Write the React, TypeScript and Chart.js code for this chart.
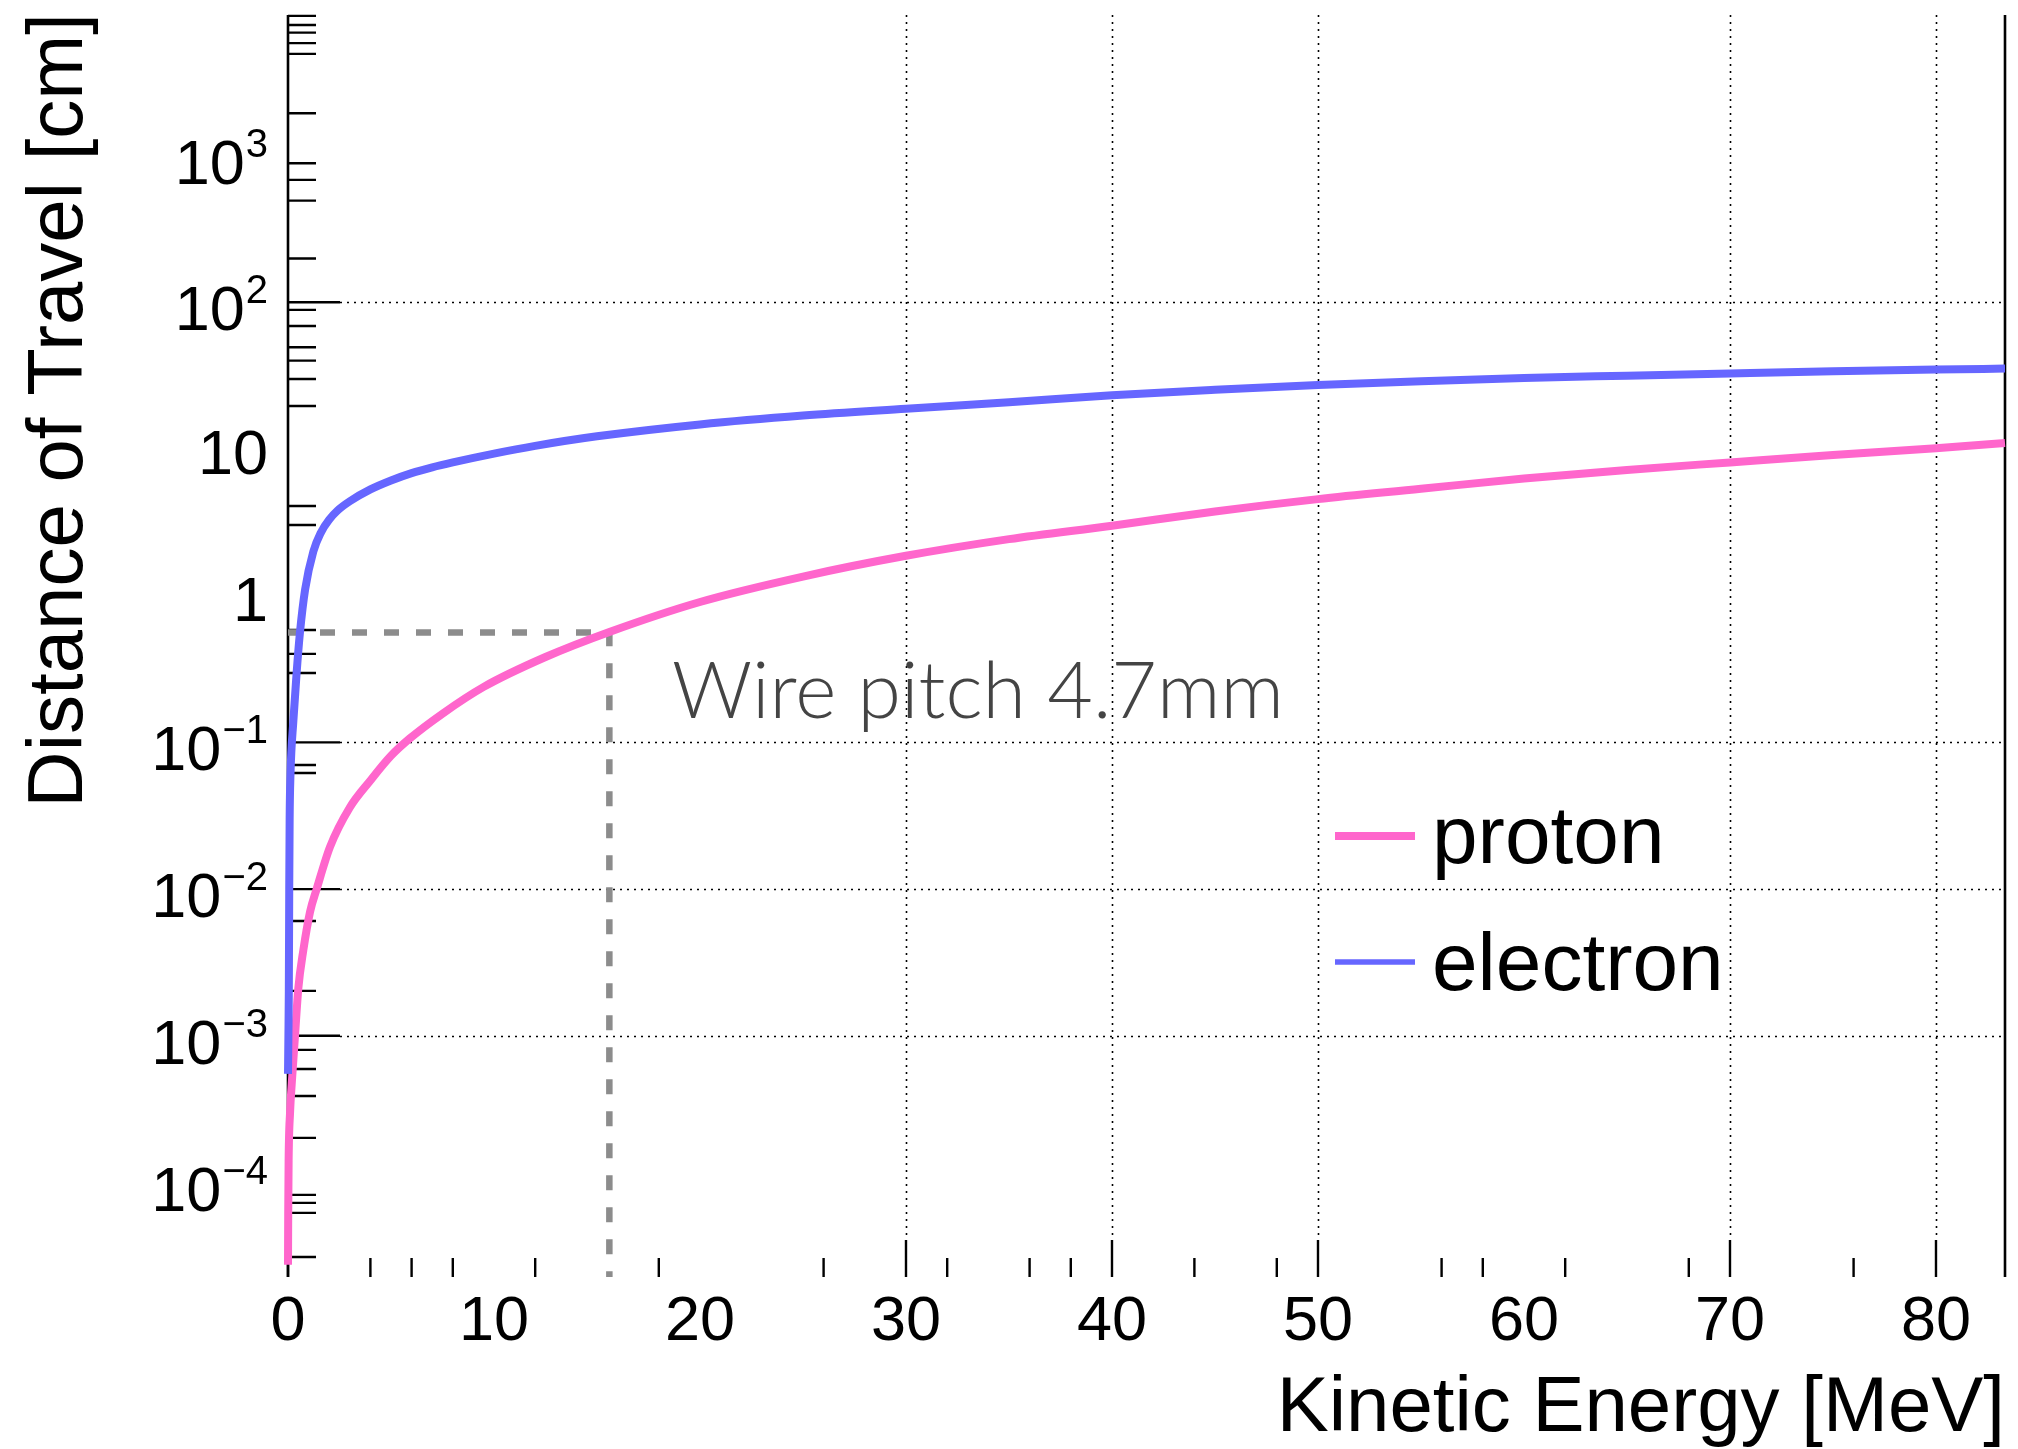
import React, { useEffect, useRef } from "react";
import { Chart, registerables } from "chart.js";

Chart.register(...registerables);

// ---- data ----
const protonEnergy = [0, 0.01, 0.03, 0.1, 0.18, 0.34, 0.5, 0.74, 1.07, 1.39, 2.04, 3.0, 4.0, 5.0, 5.9, 7.5, 9.5, 12.5, 15.6, 20, 25, 30, 35, 40, 45, 50, 55, 60, 65, 70, 75, 80, 83.35];
const protonRange = [2.75e-5, 6e-5, 1.4e-4, 3e-4, 4.7e-4, 1e-3, 2.1e-3, 3.8e-3, 7e-3, 0.01, 0.0194, 0.036, 0.055, 0.081, 0.106, 0.157, 0.239, 0.382, 0.566, 0.906, 1.35, 1.87, 2.43, 3.0, 3.75, 4.55, 5.35, 6.3, 7.2, 8.1, 9.1, 10.1, 11.0];

const electronEnergy = [0, 0.02, 0.04, 0.06, 0.08, 0.12, 0.26, 0.42, 0.58, 0.83, 1.23, 1.6, 2.0, 2.4, 3.0, 4.0, 5.0, 6, 7, 8, 10, 12, 15, 20, 25, 30, 35, 40, 45, 50, 55, 60, 65, 70, 75, 80, 83.35];
const electronRange = [5.5e-4, 1e-3, 2e-3, 0.01, 0.03, 0.06, 0.14, 0.3, 0.56, 1.1, 2.0, 2.7, 3.3, 3.8, 4.4, 5.3, 6.1, 6.85, 7.5, 8.1, 9.3, 10.5, 12.2, 14.7, 16.9, 18.8, 20.8, 23.2, 25.3, 27.3, 29, 30.5, 31.6, 32.7, 33.8, 34.8, 35.3];

const seriesLabels = ["proton", "electron"];
const seriesColors = ["#ff66cc", "#6666ff"];

const wirePitchRange = 0.56; // cm (dashed horizontal)
const wirePitchEnergy = 15.6; // MeV (dashed vertical)
const annotationText = "Wire pitch 4.7mm";

const xTickLabels = [0, 10, 20, 30, 40, 50, 60, 70, 80];
const xGridTicks = [30, 40, 50, 70, 80];
const xMinorTicks = [0, 4, 6, 8, 12, 18, 26, 32, 36, 38, 44, 48, 56, 58, 62, 68, 76];

const yLabelExponents = [3, 2, 1, 0, -1, -2, -3, -4];
const yGridExponents = [2, -1, -2, -3];
const yMinorExponents = [3.952, 3.89, 3.838, 3.766, 3.693, 3.288, 2.948, 2.834, 2.693, 2.298, 1.948, 1.838, 1.693, 1.602, 1.477, 1.293, 0.611, 0.482, -0.234, -0.397, -0.527, -1.154, -1.209, -2.217, -2.694, -3.096, -3.226, -3.41, -3.696, -4.084, -4.139, -4.207, -4.508];

const X_MIN = 0;
const X_MAX = 83.35;
const Y_MIN = Math.pow(10, -4.644);
const Y_MAX = Math.pow(10, 3.958);

const xTitle = "Kinetic Energy [MeV]";
const yTitle = "Distance of Travel [cm]";

const FONT = '"Liberation Sans", Arial, Helvetica, sans-serif';

const axisPlugin = {
  id: "rootAxes",
  beforeDatasetsDraw(chart: any) {
    const ctx = chart.ctx as CanvasRenderingContext2D;
    const xs = chart.scales.x;
    const ys = chart.scales.y;
    const a = chart.chartArea;
    ctx.save();
    // dotted grid
    ctx.strokeStyle = "#000";
    ctx.lineWidth = 1.6;
    ctx.setLineDash([2, 5]);
    ctx.beginPath();
    for (const v of xGridTicks) {
      const px = Math.round(xs.getPixelForValue(v)) + 0.5;
      ctx.moveTo(px, a.top);
      ctx.lineTo(px, a.bottom - 37);
    }
    for (const e of yGridExponents) {
      const py = Math.round(ys.getPixelForValue(Math.pow(10, e))) + 0.5;
      ctx.moveTo(a.left + 52, py);
      ctx.lineTo(a.right, py);
    }
    ctx.stroke();
    ctx.setLineDash([]);
    // axis lines
    ctx.lineWidth = 2.6;
    ctx.beginPath();
    ctx.moveTo(a.left, a.top);
    ctx.lineTo(a.left, a.bottom);
    ctx.moveTo(a.right, a.top);
    ctx.lineTo(a.right, a.bottom);
    ctx.stroke();
    // y ticks
    ctx.lineWidth = 2.4;
    ctx.beginPath();
    for (const e of yGridExponents) {
      const py = ys.getPixelForValue(Math.pow(10, e));
      ctx.moveTo(a.left, py);
      ctx.lineTo(a.left + 52, py);
    }
    for (const e of yMinorExponents) {
      const py = ys.getPixelForValue(Math.pow(10, e));
      ctx.moveTo(a.left, py);
      ctx.lineTo(a.left + 28, py);
    }
    // x ticks
    for (const v of xGridTicks) {
      const px = xs.getPixelForValue(v);
      ctx.moveTo(px, a.bottom);
      ctx.lineTo(px, a.bottom - 37);
    }
    for (const v of xMinorTicks) {
      const px = xs.getPixelForValue(v);
      ctx.moveTo(px, a.bottom);
      ctx.lineTo(px, a.bottom - 19);
    }
    ctx.stroke();
    ctx.restore();
  },
  afterDatasetsDraw(chart: any) {
    const ctx = chart.ctx as CanvasRenderingContext2D;
    const xs = chart.scales.x;
    const ys = chart.scales.y;
    const a = chart.chartArea;
    ctx.save();
    ctx.fillStyle = "#000";
    // x tick labels
    ctx.font = `63px ${FONT}`;
    ctx.textAlign = "center";
    ctx.textBaseline = "alphabetic";
    for (const v of xTickLabels) {
      ctx.fillText(String(v), xs.getPixelForValue(v), a.bottom + 63);
    }
    // y tick labels
    const rightX = a.left - 20;
    for (const e of yLabelExponents) {
      const py = ys.getPixelForValue(Math.pow(10, e));
      ctx.textAlign = "right";
      if (e === 1 || e === 0) {
        ctx.font = `63px ${FONT}`;
        ctx.fillText(e === 1 ? "10" : "1", rightX, py + 25);
      } else {
        const sup = e < 0 ? "\u2212" + Math.abs(e) : String(e);
        ctx.font = `40px ${FONT}`;
        const supW = ctx.measureText(sup).width;
        ctx.fillText(sup, rightX, py + 1);
        ctx.font = `63px ${FONT}`;
        ctx.fillText("10", rightX - supW - 1, py + 28);
      }
    }
    // axis titles
    ctx.font = `78px ${FONT}`;
    ctx.textAlign = "right";
    ctx.fillText(xTitle, a.right, 1431);
    ctx.save();
    ctx.translate(82, a.top - 2);
    ctx.rotate(-Math.PI / 2);
    ctx.textAlign = "right";
    ctx.fillText(yTitle, 0, 0);
    ctx.restore();
    // legend
    const legendY = [836, 962];
    const legendW = [8, 5.5];
    const legendBase = [863, 990];
    for (let i = 0; i < seriesLabels.length; i++) {
      ctx.strokeStyle = seriesColors[i];
      ctx.lineWidth = legendW[i];
      ctx.beginPath();
      ctx.moveTo(1335, legendY[i]);
      ctx.lineTo(1415, legendY[i]);
      ctx.stroke();
      ctx.fillStyle = "#000";
      ctx.font = `82px ${FONT}`;
      ctx.textAlign = "left";
      ctx.fillText(seriesLabels[i], 1432, legendBase[i]);
    }
    // annotation
    let size = 84;
    const fam = '"Lato", "Open Sans", sans-serif';
    ctx.font = `300 ${size}px ${fam}`;
    const w = ctx.measureText(annotationText).width;
    size = Math.max(60, Math.min(100, size * 612 / w));
    ctx.font = `300 ${size}px ${fam}`;
    ctx.fillStyle = "#444444";
    ctx.textAlign = "left";
    ctx.fillText(annotationText, 672, 718);
    ctx.restore();
  },
};

export default function App() {
  const ref = useRef<HTMLCanvasElement | null>(null);
  useEffect(() => {
    if (!ref.current) return;
    const chart = new Chart(ref.current, {
      type: "line",
      data: {
        datasets: [
          {
            label: seriesLabels[1],
            data: electronEnergy.map((x, i) => ({ x, y: electronRange[i] })),
            borderColor: seriesColors[1],
            borderWidth: 8,
            pointRadius: 0,
            cubicInterpolationMode: "monotone",
            fill: false,
            clip: false as any,
            order: 0,
          },
          {
            label: seriesLabels[0],
            data: protonEnergy.map((x, i) => ({ x, y: protonRange[i] })),
            borderColor: seriesColors[0],
            borderWidth: 8,
            pointRadius: 0,
            cubicInterpolationMode: "monotone",
            fill: false,
            clip: false as any,
            order: 1,
          },
          {
            label: "wire pitch",
            data: [
              { x: X_MIN, y: wirePitchRange },
              { x: wirePitchEnergy, y: wirePitchRange },
              { x: wirePitchEnergy, y: Y_MIN },
            ],
            borderColor: "#8c8c8c",
            borderWidth: 6.5,
            borderDash: [15, 17],
            pointRadius: 0,
            tension: 0,
            fill: false,
            clip: false as any,
            order: 2,
          },
        ],
      },
      options: {
        responsive: false,
        animation: false,
        events: [],
        layout: { padding: { left: 288, right: 13, top: 15, bottom: 172 } },
        plugins: { legend: { display: false }, tooltip: { enabled: false } },
        scales: {
          x: { type: "linear", min: X_MIN, max: X_MAX, display: false },
          y: { type: "logarithmic", min: Y_MIN, max: Y_MAX, display: false },
        },
      },
      plugins: [axisPlugin],
    } as any);
    return () => chart.destroy();
  }, []);
  return (
    <div style={{ position: "absolute", left: 0, top: 0, width: 2018, height: 1449, background: "#fff" }}>
      <canvas ref={ref} width={2018} height={1449} style={{ display: "block" }} />
    </div>
  );
}
